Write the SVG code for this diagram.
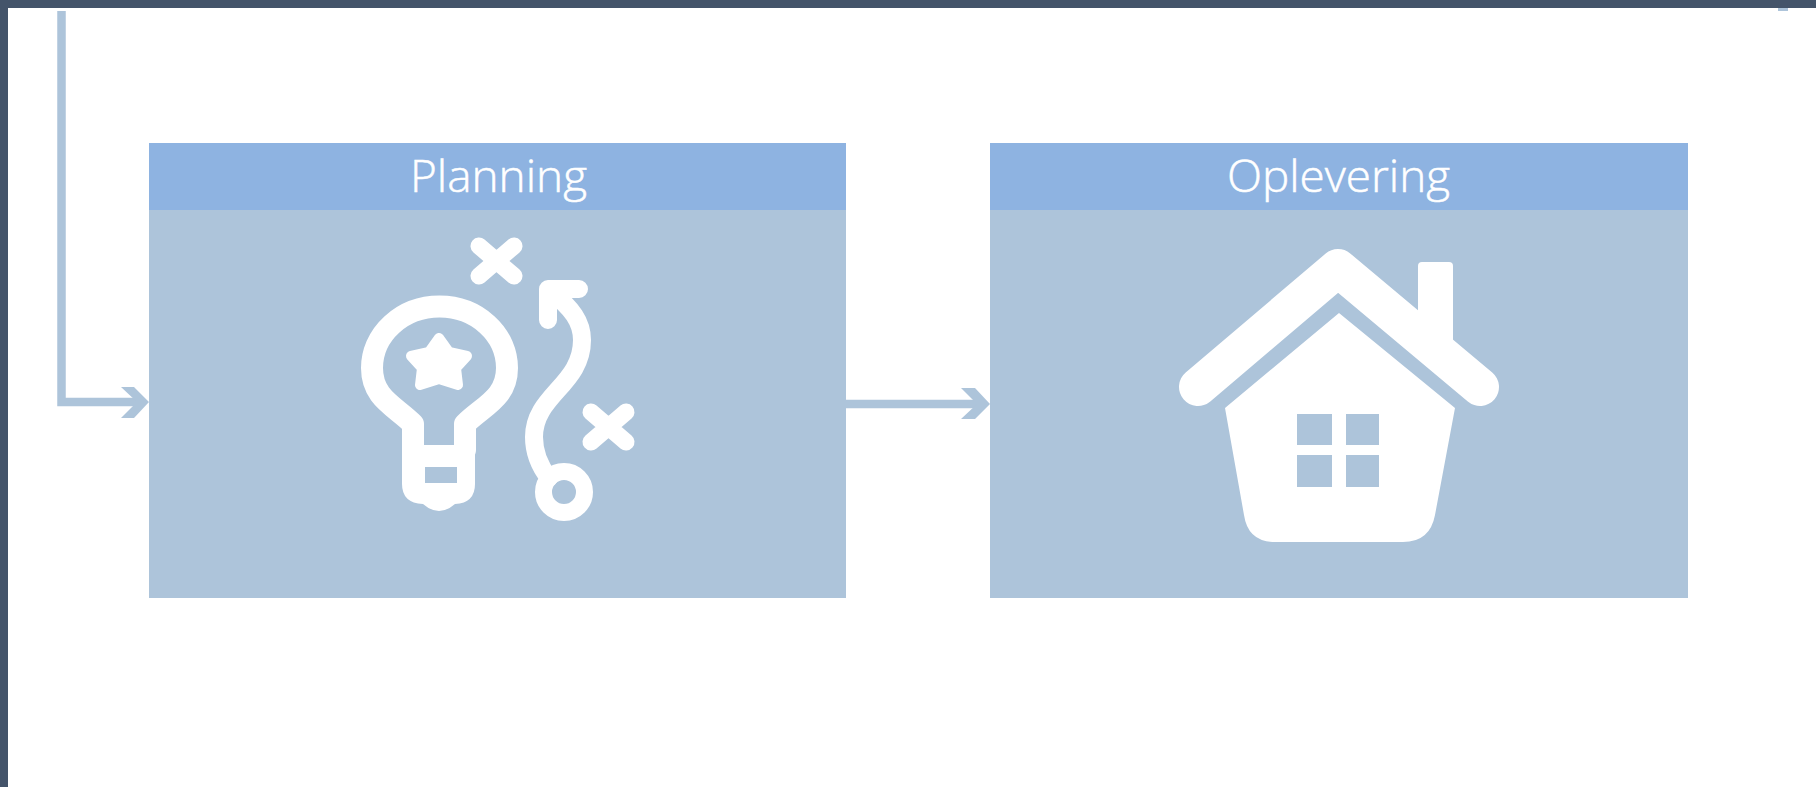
<svg xmlns="http://www.w3.org/2000/svg" width="1816" height="787" viewBox="0 0 1816 787">
<style>
.body{fill:#adc4da}
.head{fill:#8eb3e1}
.title{font-family:"Open Sans","Noto Sans",sans-serif;font-weight:300;font-size:44px;fill:#fff;stroke:#fff;stroke-width:.5;text-anchor:middle}
.ico{fill:none;stroke:#fff;stroke-linecap:round;stroke-linejoin:round}
.wht{fill:#fff}
.conn{fill:none;stroke:#adc4da;stroke-width:8.5}
.tip{fill:#adc4da}
</style>
<rect width="1816" height="787" fill="#fff"/>
<g id="frame">
<rect width="1816" height="8" fill="#44546a"/>
<rect width="8" height="787" fill="#44546a"/>
<rect x="1778" y="8" width="10" height="3" fill="#adc4da"/>
</g>
<g id="connectors">
<path class="conn" d="M61.5 11V402H140"/>
<path class="tip" d="M121 387H134L149 402L134 418H121L137 402Z"/>
<path class="conn" d="M846 404H980"/>
<path class="tip" d="M961 388H975L990 404L975 419H961L977 404Z"/>
</g>
<g id="planning">
<rect class="body" x="149" y="143" width="697" height="455"/>
<rect class="head" x="149" y="143" width="697" height="67"/>
<text class="title" x="498.5" y="192" textLength="177" lengthAdjust="spacingAndGlyphs">Planning</text>
<g id="planning-icon">
<path class="ico" stroke-width="22" d="M413 450V424C395 406 372 398 372 368A67.5 61.5 0 0 1 507 368C507 398 483 406 465 424V450"/>
<path class="wht" fill-rule="evenodd" d="M402 445H475V484Q475 503 455 504Q447 511 439 511Q431 511 423 504Q402 503 402 484ZM425 467V483H457V467Z"/>
<path class="wht" stroke="#fff" stroke-width="10" stroke-linejoin="round" d="M439 338L449 352L467 356L456 368L458 385L439 379L420 385L422 368L411 356L429 352Z"/>
<path class="ico" stroke-width="17" d="M479 246L514 276M514 246L479 276"/>
<path class="ico" stroke-width="17" d="M591 412L626 442M626 412L591 442"/>
<path class="ico" stroke-width="18" d="M551 292C572 308 582 322 582 340C582 385 534 395 534 437C534 455 541 468 549 478"/>
<path class="ico" stroke-width="18" d="M579 289H548V320"/>
<circle class="ico" cx="564" cy="492" r="20.5" stroke-width="17"/>
</g>
</g>
<g id="oplevering">
<rect class="body" x="990" y="143" width="698" height="455"/>
<rect class="head" x="990" y="143" width="698" height="67"/>
<text class="title" x="1338.5" y="192" textLength="223" lengthAdjust="spacingAndGlyphs">Oplevering</text>
<g id="oplevering-icon">
<path class="wht" d="M1418 266Q1418 262 1422 262H1449Q1453 262 1453 266V345H1418Z"/>
<path class="ico" stroke-width="38" d="M1198 387L1338 268L1480 387"/>
<path class="wht" d="M1339 313L1455 408L1435 515Q1430 542 1403 542H1275Q1248 542 1244 515L1225 408Z"/>
<path class="body" d="M1297 414H1332V445H1297ZM1346 414H1379V445H1346ZM1297 455H1332V487H1297ZM1346 455H1379V487H1346Z"/>
</g>
</g>
</svg>
